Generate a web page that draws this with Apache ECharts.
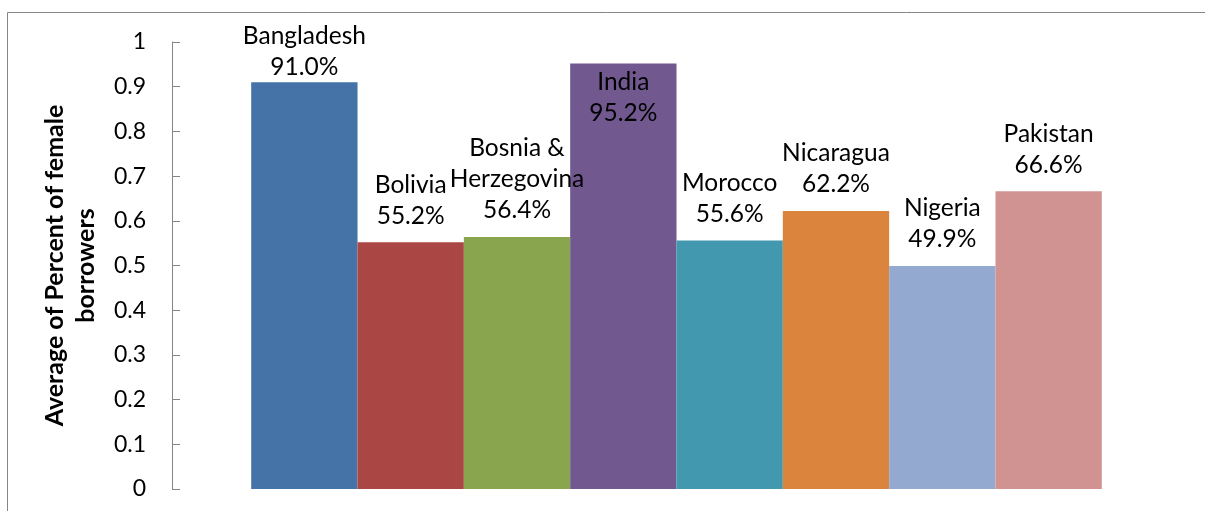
<!DOCTYPE html>
<html>
<head>
<meta charset="utf-8">
<script src="https://cdn.jsdelivr.net/npm/echarts@6/dist/echarts.min.js"></script>
<style>
html,body{margin:0;padding:0;background:#fff;}
#chart{width:1205px;height:511px;}
</style>
</head>
<body>
<div id="chart"></div>
<script>
// ---- data ----
var countries = ['Bangladesh', 'Bolivia', 'Bosnia & Herzegovina', 'India', 'Morocco', 'Nicaragua', 'Nigeria', 'Pakistan'];
var values = [0.910, 0.552, 0.564, 0.952, 0.556, 0.622, 0.499, 0.666];
var colors = ['#4572A7', '#AA4643', '#89A54E', '#71588F', '#4198AF', '#DB843D', '#93A9CF', '#D19392'];
var yTickLabels = ['0', '0.1', '0.2', '0.3', '0.4', '0.5', '0.6', '0.7', '0.8', '0.9', '1'];
var yTitle = 'Average of Percent of female\nborrowers';

var FONT = 'Lato';
var chart = echarts.init(document.getElementById('chart'), null, {renderer: 'canvas'});

var series = countries.map(function (name, i) {
  var v = values[i];
  // labels that would leave the chart are pushed down (inside for the tallest bar)
  var inside = v > 0.93;
  var clamped = !inside && v > 0.85;
  return {
    name: name,
    type: 'bar',
    data: [v],
    barGap: '0%',
    barCategoryGap: '15.7%',
    itemStyle: {color: colors[i]},
    label: {
      show: true,
      position: inside ? 'insideTop' : 'top',
      distance: inside ? 3 : (clamped ? 0 : 11),
      color: '#000',
      fontFamily: FONT,
      fontSize: 24.5,
      lineHeight: 31,
      align: 'center',
      formatter: function (p) {
        return p.seriesName.replace(' & ', ' &\n') + '\n' + (p.value * 100).toFixed(1) + '%';
      }
    },
    emphasis: {disabled: true}
  };
});

chart.setOption({
  animation: false,
  grid: {left: 172, right: 24, top: 42, bottom: 22, containLabel: false},
  xAxis: {
    type: 'category',
    data: [''],
    axisLine: {show: false},
    axisTick: {show: false},
    axisLabel: {show: false},
    splitLine: {show: false}
  },
  yAxis: {
    type: 'value',
    min: 0,
    max: 1,
    interval: 0.1,
    name: yTitle,
    nameLocation: 'middle',
    nameRotate: 90,
    nameGap: 71,
    nameTextStyle: {fontFamily: FONT, fontWeight: 'bold', fontSize: 25, color: '#000', lineHeight: 31},
    axisLine: {show: true, lineStyle: {color: '#868686', width: 1}},
    axisTick: {show: true, inside: true, length: 8, lineStyle: {color: '#868686'}},
    axisLabel: {
      fontFamily: FONT, fontSize: 23, color: '#000', margin: 26,
      formatter: function (v) { return yTickLabels[Math.round(v * 10)]; }
    },
    splitLine: {show: false}
  },
  graphic: [{
    type: 'rect',
    shape: {x: 7.5, y: 12.5, width: 1300, height: 600},
    style: {fill: 'none', stroke: '#868686', lineWidth: 1},
    silent: true
  }],
  series: series
});
</script>
</body>
</html>
